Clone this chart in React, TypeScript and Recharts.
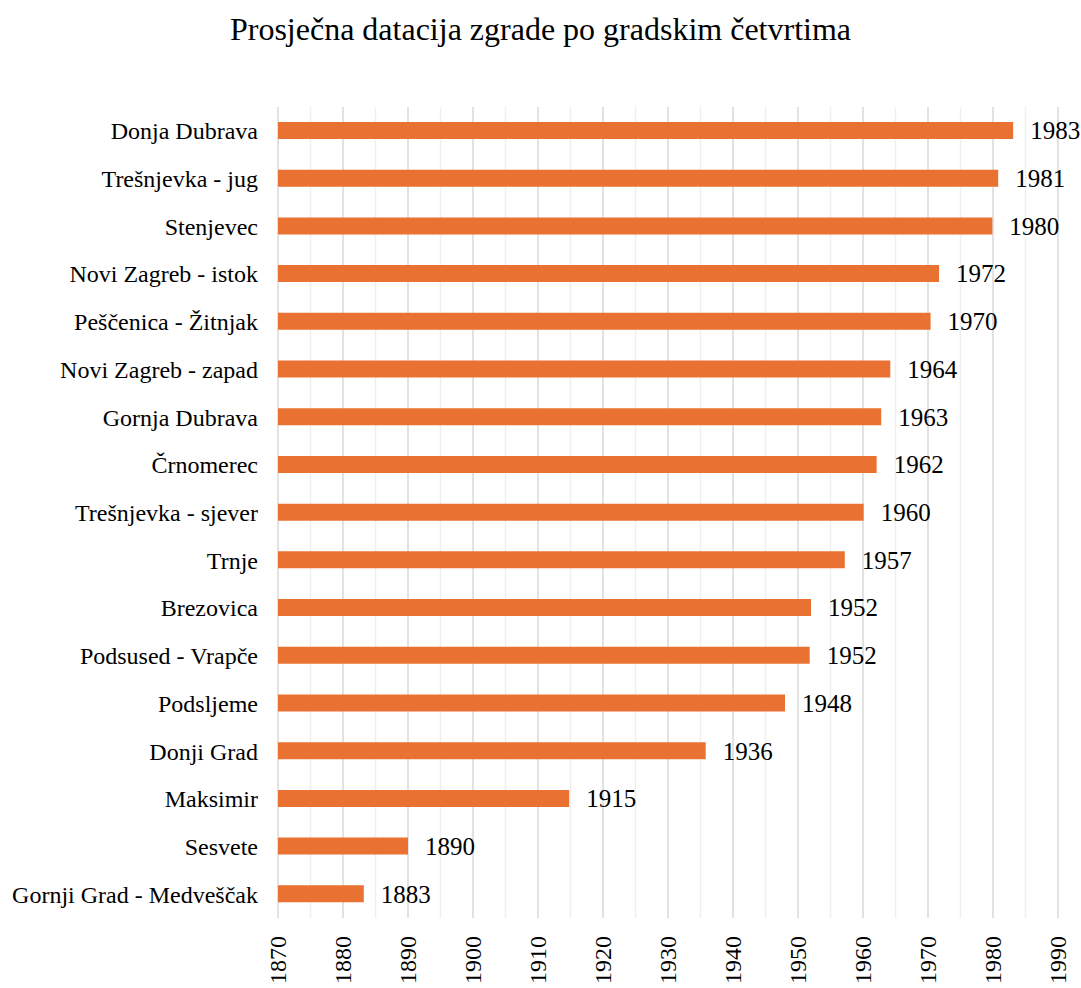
import React from "react";
import { BarChart, Bar, XAxis, YAxis, CartesianGrid, LabelList } from "recharts";

const districts = [
  "Donja Dubrava",
  "Trešnjevka - jug",
  "Stenjevec",
  "Novi Zagreb - istok",
  "Peščenica - Žitnjak",
  "Novi Zagreb - zapad",
  "Gornja Dubrava",
  "Črnomerec",
  "Trešnjevka - sjever",
  "Trnje",
  "Brezovica",
  "Podsused - Vrapče",
  "Podsljeme",
  "Donji Grad",
  "Maksimir",
  "Sesvete",
  "Gornji Grad - Medveščak",
];

const years = [
  1983.1, 1980.8, 1979.9, 1971.7, 1970.4, 1964.2, 1962.8, 1962.1, 1960.1,
  1957.2, 1952.0, 1951.8, 1948.0, 1935.8, 1914.8, 1890.0, 1883.2,
];

const majorTicks = [1870, 1880, 1890, 1900, 1910, 1920, 1930, 1940, 1950, 1960, 1970, 1980, 1990];
const minorTicks = [1875, 1885, 1895, 1905, 1915, 1925, 1935, 1945, 1955, 1965, 1975, 1985];

const title = "Prosječna datacija zgrade po gradskim četvrtima";

const data = districts.map((name, i) => ({ name, value: years[i] }));

const FONT = "'Liberation Serif', 'Times New Roman', serif";

const XTick = (props: any) => {
  const { x, y, payload } = props;
  return (
    <text
      x={x}
      y={y}
      transform={`rotate(-90, ${x}, ${y})`}
      textAnchor="end"
      dominantBaseline="central"
      fontFamily={FONT}
      fontSize={24}
      fill="#000"
    >
      {payload.value}
    </text>
  );
};

const gen = (vals: number[]) => (props: any) => {
  const scale = props?.xAxis?.scale;
  if (!scale) return [];
  const s = typeof scale.map === "function" && typeof scale === "object" ? scale.map : scale;
  return vals.map((v) => s(v));
};

export default function App() {
  return (
    <div style={{ position: "absolute", left: 0, top: 0, width: 1081, height: 988, background: "#fff" }}>
      <div
        style={{
          position: "absolute",
          left: 0,
          top: 13,
          width: 1081,
          textAlign: "center",
          fontFamily: FONT,
          fontSize: 32,
          lineHeight: "32px",
          color: "#000",
        }}
      >
        {title}
      </div>
      <BarChart
        width={1081}
        height={988}
        data={data}
        layout="vertical"
        margin={{ top: 107, right: 23, bottom: 0, left: 0 }}
        barCategoryGap={0}
      >
        <CartesianGrid
          horizontal={false}
          stroke="#efefef"
          strokeWidth={1.5}
          verticalCoordinatesGenerator={gen(minorTicks)}
        />
        <CartesianGrid
          horizontal={false}
          stroke="#d9d9d9"
          strokeWidth={1.5}
          verticalCoordinatesGenerator={gen(majorTicks)}
        />
        <XAxis
          type="number"
          domain={[1870, 1990]}
          ticks={majorTicks}
          interval={0}
          axisLine={false}
          tickLine={false}
          tickSize={0}
          tickMargin={18}
          height={70}
          tick={<XTick />}
        />
        <YAxis
          type="category"
          dataKey="name"
          width={278}
          axisLine={false}
          tickLine={false}
          tickSize={0}
          tickMargin={20}
          interval={0}
          tick={{ fontFamily: FONT, fontSize: 24, fill: "#000" }}
        />
        <Bar dataKey="value" fill="#E97132" barSize={17} isAnimationActive={false}>
          <LabelList
            dataKey="value"
            position="right"
            offset={17}
            formatter={(v: any) => Math.round(Number(v))}
            style={{ fontFamily: FONT, fontSize: 25, fill: "#000" }}
          />
        </Bar>
      </BarChart>
    </div>
  );
}
